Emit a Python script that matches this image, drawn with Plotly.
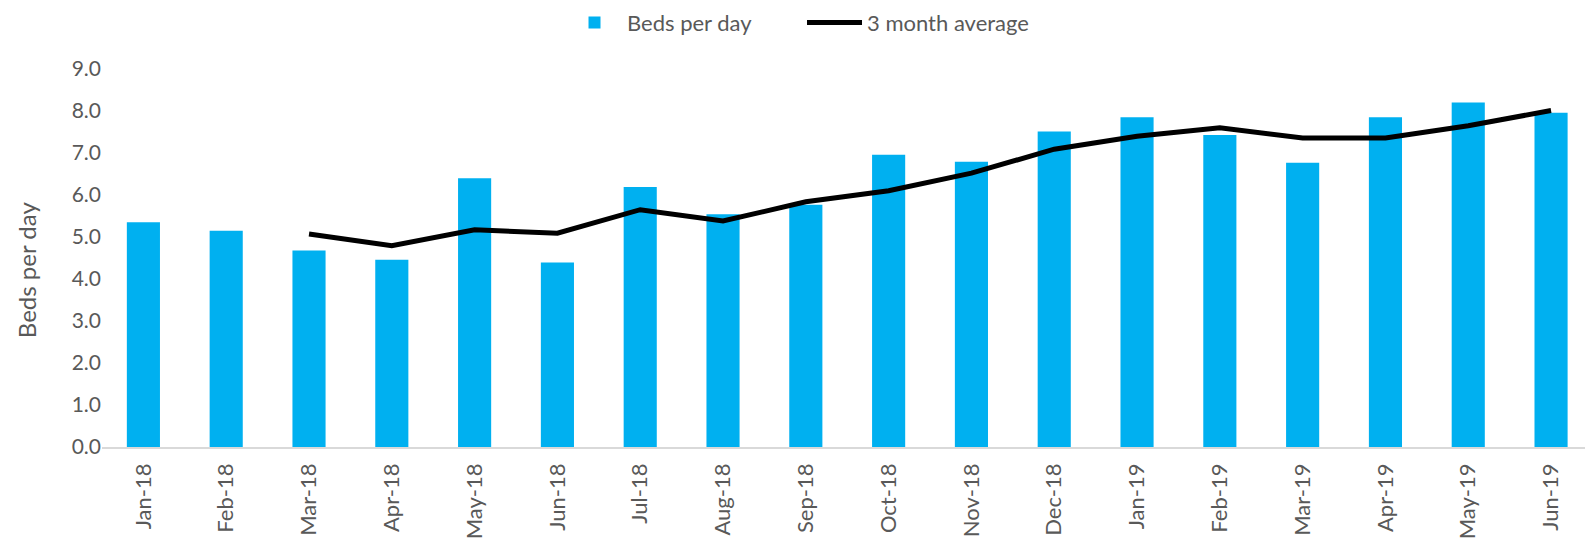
import plotly.graph_objects as go

months = ["Jan-18", "Feb-18", "Mar-18", "Apr-18", "May-18", "Jun-18", "Jul-18", "Aug-18", "Sep-18",
          "Oct-18", "Nov-18", "Dec-18", "Jan-19", "Feb-19", "Mar-19", "Apr-19", "May-19", "Jun-19"]
beds_per_day = [5.35, 5.15, 4.68, 4.46, 6.40, 4.39, 6.19, 5.54, 5.77,
                6.96, 6.79, 7.51, 7.85, 7.43, 6.77, 7.85, 8.20, 7.96]
avg_months = months[2:]
avg_values = [5.07, 4.79, 5.17, 5.09, 5.65, 5.38, 5.84, 6.10,
              6.52, 7.09, 7.40, 7.60, 7.36, 7.36, 7.65, 8.01]
y_ticks = [0, 1, 2, 3, 4, 5, 6, 7, 8, 9]

font_family = "Lato, 'Open Sans', sans-serif"
grey = "#595959"

fig = go.Figure()
fig.add_trace(go.Bar(x=months, y=beds_per_day, name="Beds per day",
                     marker=dict(color="#00B0F0", line=dict(width=0))))
fig.add_trace(go.Scatter(x=avg_months, y=avg_values, name="3 month average", mode="lines",
                         line=dict(color="#000000", width=5)))

fig.update_layout(
    width=1585, height=538,
    margin=dict(l=102, r=0, t=69, b=91, autoexpand=False),
    paper_bgcolor="white", plot_bgcolor="white",
    font=dict(family=font_family, size=21, color=grey),
    bargap=0.6,
    showlegend=True,
    legend=dict(orientation="h", x=0.506, xanchor="center", xref="container",
                y=0.997, yanchor="top", yref="container",
                font=dict(size=22, color=grey), itemwidth=55, entrywidth=170,
                traceorder="normal"),
    xaxis=dict(type="category", range=[-0.5, 17.41], tickangle=-90,
               showline=True, linecolor="#d9d9d9", linewidth=1.5,
               ticks="", showgrid=False, ticklabelstandoff=6,
               tickfont=dict(size=22, color=grey)),
    yaxis=dict(range=[0, 9], tickvals=y_ticks, tickformat=".1f",
               showline=False, showgrid=False, zeroline=False, ticks="",
               tickfont=dict(size=21, color=grey)),
    annotations=[dict(text="Beds per day", xref="paper", yref="paper",
                      x=-0.0512, y=0.468, xanchor="center", yanchor="middle",
                      textangle=-90, showarrow=False,
                      font=dict(size=24, color=grey))],
)
fig.write_html("out.html", config={"displayModeBar": False},
               post_script="document.body.style.margin='0px';")
